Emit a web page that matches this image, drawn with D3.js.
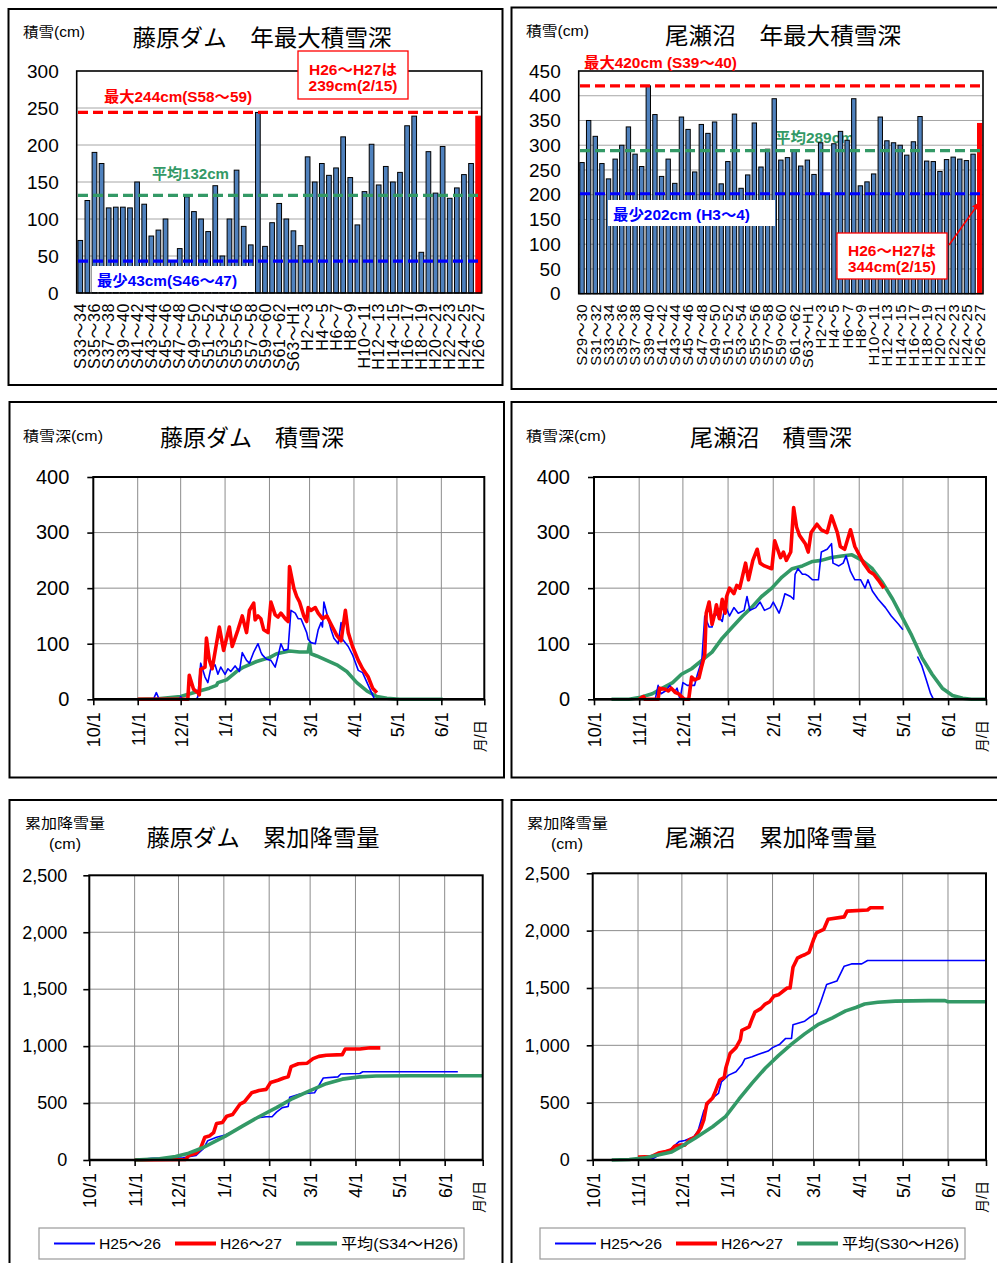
<!DOCTYPE html>
<html>
<head>
<meta charset="utf-8">
<script src="https://cdn.jsdelivr.net/npm/d3@7"></script>
<style>
body { margin: 0; background: #fff; }
svg { display: block; font-family: "Liberation Sans", "Noto Sans CJK JP", sans-serif; }
</style>
</head>
<body>
<script>
// ---- annual maximum snow depth (cm) ----
var fujiSeasons = ("S33～34 S34～35 S35～36 S36～37 S37～38 S38～39 S39～40 S40～41 S41～42 S42～43 " +
    "S43～44 S44～45 S45～46 S46～47 S47～48 S48～49 S49～50 S50～51 S51～52 S52～53 S53～54 S54～55 " +
    "S55～56 S56～57 S57～58 S58～59 S59～60 S60～61 S61～62 S62～63 S63～H1 H1～2 H2～3 H3～4 H4～5 " +
    "H5～6 H6～7 H7～8 H8～9 H9～10 H10～11 H11～12 H12～13 H13～14 H14～15 H15～16 H16～17 H17～18 " +
    "H18～19 H19～20 H20～21 H21～22 H22～23 H23～24 H24～25 H25～26 H26～27").split(" ");
var fujiMax = [71, 125, 190, 175, 115, 116, 116, 115, 150, 120, 77, 85, 100, 43, 60, 130, 110, 100, 83, 145,
    50, 100, 166, 90, 65, 244, 63, 95, 121, 100, 84, 64, 184, 150, 175, 159, 169, 211, 156, 92,
    137, 201, 146, 171, 150, 163, 226, 239, 55, 191, 135, 198, 128, 142, 160, 175, 239];
var fujiTicks = [0, 50, 100, 150, 200, 250, 300];
var fujiMaxLine = 244, fujiAvgLine = 132, fujiMinLine = 43;

var ozeSeasons = ("S29～30 S30～31 S31～32 S32～33 S33～34 S34～35 S35～36 S36～37 S37～38 S38～39 " +
    "S39～40 S40～41 S41～42 S42～43 S43～44 S44～45 S45～46 S46～47 S47～48 S48～49 S49～50 S50～51 " +
    "S51～52 S52～53 S53～54 S54～55 S55～56 S56～57 S57～58 S58～59 S59～60 S60～61 S61～62 S62～63 " +
    "S63～H1 H1～2 H2～3 H3～4 H4～5 H5～6 H6～7 H7～8 H8～9 H9～10 H10～11 H11～12 H12～13 H13～14 " +
    "H14～15 H15～16 H16～17 H17～18 H18～19 H19～20 H20～21 H21～22 H22～23 H23～24 H24～25 H25～26 H26～27").split(" ");
var ozeMax = [265, 350, 318, 263, 232, 272, 300, 337, 282, 257, 420, 362, 237, 272, 223, 357, 332, 246, 342, 324,
    347, 222, 267, 363, 213, 240, 345, 256, 292, 394, 270, 275, 290, 258, 270, 241, 305, 202, 303, 328,
    310, 394, 218, 226, 242, 357, 309, 305, 300, 280, 307, 358, 268, 267, 247, 271, 276, 272, 269, 282, 344];
var ozeTicks = [0, 50, 100, 150, 200, 250, 300, 350, 400, 450];
var ozeMaxLine = 420, ozeAvgLine = 289, ozeMinLine = 202;

// ---- daily series: [days since 10/1, cm] ----
var fujiDepthH25 = [[31,0],[42,0],[44,12],[46,0],[60,0],[61,5],[62,0],[72,0],[73,5],[75,65],[78,40],[80,30],
    [82,55],[85,62],[87,45],[89,58],[92,45],[94,55],[96,50],[99,60],[102,50],[104,84],[107,70],[109,65],
    [112,85],[115,100],[117,85],[118,80],[121,72],[124,70],[127,58],[129,78],[131,100],[133,88],[136,90],
    [138,160],[141,155],[143,145],[145,145],[149,120],[150,108],[152,102],[155,100],[157,125],[159,138],
    [160,130],[161,175],[164,145],[166,125],[168,110],[171,100],[173,138],[174,108],[178,95],[181,80],
    [185,52],[188,48],[192,25],[196,2],[197,0],[252,0]];
var fujiDepthH26 = [[31,0],[66,0],[67,43],[70,18],[73,12],[74,8],[75,54],[78,58],[79,110],[81,71],[83,55],
    [88,130],[91,88],[95,130],[97,95],[101,125],[104,150],[107,120],[109,160],[112,173],[113,143],[115,150],
    [117,145],[119,125],[122,120],[124,175],[127,152],[129,148],[131,155],[134,145],[136,140],[137,239],
    [140,200],[142,185],[144,175],[147,150],[149,140],[150,165],[152,160],[155,165],[157,155],[160,145],
    [163,150],[166,135],[170,115],[173,105],[176,160],[178,120],[181,95],[185,70],[188,55],[192,40],
    [195,20],[198,12]];
var fujiDepthAvg = [[31,0],[45,1],[61,5],[74,15],[81,20],[86,25],[87,30],[93,35],[100,50],[105,58],[114,68],
    [123,75],[128,82],[137,87],[144,85],[150,85],[151,100],[152,82],[156,78],[163,70],[170,62],[177,50],
    [184,30],[191,15],[198,5],[205,2],[214,0],[244,0]];

var ozeDepthH25 = [[31,0],[42,0],[44,25],[46,10],[49,15],[52,25],[55,12],[57,20],[59,0],[61,30],[64,25],
    [69,25],[71,45],[74,70],[76,150],[79,130],[81,130],[83,155],[85,150],[88,140],[90,170],[93,150],
    [96,165],[99,155],[103,160],[105,185],[107,160],[111,165],[114,175],[117,160],[121,165],[123,175],
    [127,155],[129,170],[131,190],[135,185],[137,180],[138,225],[140,235],[143,225],[145,225],[147,222],
    [150,215],[152,215],[154,215],[156,265],[160,270],[163,280],[164,245],[168,240],[171,245],[173,258],
    [176,230],[179,215],[183,215],[186,200],[188,215],[191,195],[195,180],[200,165],[204,150],[209,135],
    [212,125],[213,null],[221,null],[222,77],[225,60],[228,35],[231,10],[233,0],[253,0]];
var ozeDepthH26 = [[31,0],[34,5],[35,0],[44,0],[45,20],[49,18],[51,15],[53,20],[56,12],[58,10],[60,5],
    [62,0],[65,0],[67,40],[69,35],[72,38],[74,60],[76,80],[77,155],[79,175],[81,135],[83,155],[84,170],
    [86,145],[88,180],[90,155],[91,185],[93,200],[96,190],[98,205],[100,200],[104,245],[106,215],[109,250],
    [112,270],[114,245],[117,240],[122,235],[124,285],[128,255],[130,265],[132,250],[135,265],[137,345],
    [139,310],[141,295],[145,280],[147,265],[149,300],[153,315],[156,305],[160,300],[163,330],[167,300],
    [169,275],[172,270],[176,305],[179,275],[183,255],[185,245],[189,230],[192,225],[195,215],[199,200]];
var ozeDepthAvg = [[12,0],[24,0],[31,3],[40,10],[47,20],[54,30],[60,45],[67,55],[74,70],[81,85],[88,110],
    [95,130],[102,150],[108,165],[115,185],[122,200],[129,220],[136,235],[143,240],[150,248],[156,250],
    [163,255],[170,258],[177,260],[184,250],[191,235],[198,210],[205,180],[211,150],[218,115],[225,75],
    [232,45],[239,20],[246,7],[253,2],[259,0],[269,0]];

var fujiCumH25 = [[31,0],[43,15],[64,20],[73,40],[78,100],[81,170],[87,200],[93,220],[98,250],[105,300],
    [114,370],[121,380],[125,380],[128,420],[132,460],[136,470],[137,550],[144,580],[154,590],[160,720],
    [170,730],[172,755],[185,760],[187,775],[252,775]];
var fujiCumH26 = [[31,0],[66,5],[68,40],[73,60],[76,100],[79,200],[82,210],[85,240],[87,320],[91,330],
    [94,385],[98,400],[103,490],[106,510],[111,590],[116,610],[121,620],[124,680],[129,700],[133,720],
    [136,730],[138,820],[143,845],[149,850],[153,890],[157,910],[162,920],[173,925],[175,975],[185,975],
    [192,985],[199,985]];
var fujiCumAvg = [[31,0],[48,10],[59,30],[68,60],[78,110],[87,170],[93,210],[105,300],[116,380],[128,460],
    [139,540],[151,610],[162,670],[173,710],[185,730],[196,738],[219,740],[269,740]];

var ozeCumH25 = [[31,0],[41,10],[45,40],[52,80],[59,160],[63,170],[69,200],[72,250],[76,430],[79,490],
    [83,550],[86,580],[88,680],[93,740],[98,770],[102,830],[104,880],[109,900],[113,920],[120,950],
    [123,980],[128,1010],[132,1060],[136,1060],[137,1180],[145,1210],[148,1240],[153,1280],[156,1380],
    [160,1530],[167,1560],[172,1690],[177,1710],[184,1710],[188,1740],[269,1740]];
var ozeCumH26 = [[31,25],[40,30],[45,60],[50,75],[54,90],[56,120],[60,130],[63,130],[66,175],[70,200],
    [74,280],[76,350],[78,490],[82,540],[84,600],[87,700],[90,720],[91,800],[94,930],[98,980],[101,1050],
    [102,1130],[107,1160],[109,1230],[111,1290],[115,1320],[118,1360],[121,1380],[124,1430],[127,1440],
    [131,1480],[133,1500],[135,1500],[137,1680],[140,1760],[143,1780],[145,1790],[148,1810],[151,1920],
    [153,1980],[158,2010],[161,2100],[172,2120],[174,2170],[188,2180],[190,2200],[199,2200]];
var ozeCumAvg = [[13,0],[25,5],[36,20],[47,50],[54,70],[61,120],[70,190],[82,290],[91,380],[100,530],
    [109,670],[118,800],[127,910],[136,1010],[145,1100],[154,1180],[164,1240],[173,1300],[180,1330],
    [186,1360],[195,1375],[207,1385],[230,1390],[241,1390],[243,1380],[269,1380]];

var depthTicks = [0, 100, 200, 300, 400];
var cumTicks = [0, 500, 1000, 1500, 2000, 2500];
var legendNames = ["H25～26", "H26～27"];

var BLUE = "#0000ff", RED = "#ff0000", GREEN = "#339966", BAR = "#4f81bd";

var svg = d3.select("body").append("svg")
    .attr("width", 997)
    .attr("height", 1263);

svg.append("defs").append("marker")
    .attr("id", "arr")
    .attr("viewBox", "0 0 10 10")
    .attr("refX", 9).attr("refY", 5)
    .attr("markerWidth", 5).attr("markerHeight", 5)
    .attr("orient", "auto")
    .append("path").attr("d", "M0,0L10,5L0,10z").attr("fill", RED);

function txt(x, y, s, o) {
    o = o || {};
    var t = svg.append("text")
        .attr("x", x).attr("y", y)
        .attr("font-size", o.size || 14)
        .attr("fill", o.color || "#000")
        .attr("font-weight", o.bold ? "bold" : null)
        .attr("text-anchor", o.anchor || "start")
        .text(s);
    if (o.len) t.attr("textLength", o.len).attr("lengthAdjust", "spacingAndGlyphs");
    return t;
}

function panel(x, y, w, h) {
    svg.append("rect")
        .attr("x", x).attr("y", y).attr("width", w).attr("height", h)
        .attr("fill", "none").attr("stroke", "#000").attr("stroke-width", 2);
}

function dashed(x1, x2, yy, color) {
    svg.append("line")
        .attr("x1", x1).attr("x2", x2).attr("y1", yy).attr("y2", yy)
        .attr("stroke", color).attr("stroke-width", 3.2)
        .attr("stroke-dasharray", "10,5");
}

function barChart(o) {
    var x = d3.scaleBand().domain(o.cats).range([o.left, o.right])
        .paddingInner(0.34).paddingOuter(0.17);
    var y = d3.scaleLinear().domain([0, o.ticks[o.ticks.length - 1]]).range([o.bottom, o.top]);

    svg.append("g").selectAll("line")
        .data(o.ticks.slice(1, -1))
        .enter().append("line")
        .attr("x1", o.left).attr("x2", o.right)
        .attr("y1", function (d) { return y(d); })
        .attr("y2", function (d) { return y(d); })
        .attr("stroke", "#a6a6a6");

    if (o.before) o.before(y);

    svg.append("g").selectAll("rect")
        .data(o.values)
        .enter().append("rect")
        .attr("x", function (d, i) { return x(o.cats[i]); })
        .attr("width", x.bandwidth())
        .attr("y", function (d) { return y(d); })
        .attr("height", function (d) { return o.bottom - y(d); })
        .attr("fill", function (d, i) { return i === o.values.length - 1 ? RED : BAR; })
        .attr("stroke", function (d, i) { return i === o.values.length - 1 ? RED : "#000"; })
        .attr("stroke-width", 1);

    svg.append("rect")
        .attr("x", o.left).attr("y", o.top)
        .attr("width", o.right - o.left).attr("height", o.bottom - o.top)
        .attr("fill", "none").attr("stroke", "#000").attr("stroke-width", 1.6);

    var ya = svg.append("g")
        .attr("transform", "translate(" + o.left + ",0)")
        .call(d3.axisLeft(y).tickValues(o.ticks).tickSize(0).tickPadding(18));
    ya.select(".domain").remove();
    ya.attr("font-family", null).attr("font-size", 19);
    ya.selectAll("text").attr("fill", "#000");

    svg.append("g").selectAll("text")
        .data(o.cats.filter(function (d, i) { return i % 2 === 0; }))
        .enter().append("text")
        .attr("transform", function (d) {
            return "translate(" + (x(d) + x.bandwidth() / 2) + "," + (o.bottom + 10) + ") rotate(-90)";
        })
        .attr("text-anchor", "end")
        .attr("dy", "0.36em")
        .attr("font-size", o.labelSize)
        .attr("letter-spacing", 0.6)
        .text(function (d) { return d; });

    return y;
}

function lineChart(o) {
    var t0 = new Date(2014, 9, 1);
    var t1 = d3.timeDay.offset(t0, o.endDay);
    var x = d3.scaleTime().domain([t0, t1]).range([o.left, o.right]);
    var y = d3.scaleLinear().domain([0, o.ticks[o.ticks.length - 1]]).range([o.bottom, o.top]);
    var months = d3.timeMonth.range(t0, t1);

    var g = svg.append("g");
    g.selectAll(".vg").data(months.slice(1)).enter().append("line")
        .attr("x1", function (d) { return x(d); }).attr("x2", function (d) { return x(d); })
        .attr("y1", o.top).attr("y2", o.bottom)
        .attr("stroke", "#8c8c8c");
    g.selectAll(".hg").data(o.ticks.slice(1, -1)).enter().append("line")
        .attr("x1", o.left).attr("x2", o.right)
        .attr("y1", function (d) { return y(d); }).attr("y2", function (d) { return y(d); })
        .attr("stroke", "#8c8c8c");

    var line = d3.line()
        .defined(function (d) { return d[1] != null; })
        .x(function (d) { return x(d3.timeDay.offset(t0, d[0])); })
        .y(function (d) { return y(d[1]); });

    o.series.forEach(function (s) {
        g.append("path")
            .attr("d", line(s.data))
            .attr("fill", "none")
            .attr("stroke", s.color)
            .attr("stroke-width", s.width)
            .attr("stroke-linejoin", "round");
    });

    g.append("rect")
        .attr("x", o.left).attr("y", o.top)
        .attr("width", o.right - o.left).attr("height", o.bottom - o.top)
        .attr("fill", "none").attr("stroke", "#000").attr("stroke-width", 2);
    g.append("line")
        .attr("x1", o.left).attr("x2", o.right).attr("y1", o.bottom).attr("y2", o.bottom)
        .attr("stroke", "#000").attr("stroke-width", 2.6);

    var fmt = d3.timeFormat("%-m/%-d");
    var xa = g.append("g")
        .attr("transform", "translate(0," + o.bottom + ")")
        .call(d3.axisBottom(x).tickValues(months.concat([t1])).tickSize(6)
            .tickFormat(function (d) { return +d === +t1 ? "" : fmt(d); }));
    xa.select(".domain").remove();
    xa.attr("font-family", null).attr("font-size", 18);
    xa.selectAll("line").attr("stroke", "#000").attr("stroke-width", 1.6);
    xa.selectAll("text")
        .attr("fill", "#000")
        .attr("transform", "rotate(-90)")
        .attr("text-anchor", "end")
        .attr("x", -13).attr("y", 0).attr("dy", "0.36em");

    var ya = g.append("g")
        .attr("transform", "translate(" + o.left + ",0)")
        .call(d3.axisLeft(y).tickValues(o.ticks).tickSize(6).tickPadding(o.pad).tickFormat(d3.format(",")));
    ya.select(".domain").remove();
    ya.attr("font-family", null).attr("font-size", o.ySize);
    ya.selectAll("line").attr("stroke", "#000").attr("stroke-width", 1.6);
    ya.selectAll("text").attr("fill", "#000");

    g.append("text")
        .attr("transform", "translate(" + (o.right - 4) + "," + (o.bottom + 21) + ") rotate(-90)")
        .attr("text-anchor", "end")
        .attr("dy", "0.36em")
        .attr("font-size", 14)
        .text("月/日");
}

function legend(x, y, avgName) {
    svg.append("rect")
        .attr("x", x).attr("y", y).attr("width", 425).attr("height", 31)
        .attr("fill", "#fff").attr("stroke", "#9a9a9a").attr("stroke-width", 1.2);
    var items = [
        { name: legendNames[0], color: BLUE, w: 2, dx: 15, tl: 62 },
        { name: legendNames[1], color: RED, w: 4, dx: 136, tl: 62 },
        { name: avgName, color: GREEN, w: 4, dx: 257, tl: 117 }
    ];
    items.forEach(function (it) {
        svg.append("line")
            .attr("x1", x + it.dx).attr("x2", x + it.dx + 41)
            .attr("y1", y + 15.5).attr("y2", y + 15.5)
            .attr("stroke", it.color).attr("stroke-width", it.w);
        txt(x + it.dx + 45, y + 21, it.name, { size: 15, len: it.tl });
    });
}

// ---------- panel frames ----------
panel(8.5, 9, 494, 376);
panel(511.5, 7.5, 495, 381.5);
panel(9.5, 402, 494.5, 375.5);
panel(511.5, 402, 495, 375.5);
panel(9.5, 800, 493, 480);
panel(511.5, 800, 495, 480);

// ---------- top-left: 藤原ダム 年最大積雪深 ----------
txt(23, 37, "積雪(cm)", { size: 14, len: 62 });
txt(262, 46, "藤原ダム　年最大積雪深", { size: 23, anchor: "middle", len: 259 });
var yF = barChart({
    cats: fujiSeasons, values: fujiMax, ticks: fujiTicks,
    left: 76.7, right: 481.7, top: 71, bottom: 293, labelSize: 16
});
dashed(78, 481, yF(fujiMaxLine), RED);
dashed(78, 481, yF(fujiAvgLine), GREEN);
dashed(78, 481, yF(fujiMinLine), BLUE);
txt(104, yF(fujiMaxLine) - 10, "最大244cm(S58～59)", { size: 15, bold: true, color: RED, len: 148 });
txt(152, yF(fujiAvgLine) - 16, "平均132cm", { size: 15, bold: true, color: GREEN, len: 77 });
svg.append("rect").attr("x", 92).attr("y", 266).attr("width", 163).attr("height", 26).attr("fill", "#fff");
txt(97, 286, "最少43cm(S46～47)", { size: 15, bold: true, color: BLUE, len: 140 });
svg.append("rect").attr("x", 298).attr("y", 51).attr("width", 110).attr("height", 48)
    .attr("fill", "#fff").attr("stroke", RED).attr("stroke-width", 1.3);
txt(353, 75, "H26～H27は", { size: 15, bold: true, color: RED, anchor: "middle", len: 88 });
txt(353, 91, "239cm(2/15)", { size: 15, bold: true, color: RED, anchor: "middle", len: 89 });

// ---------- top-right: 尾瀬沼 年最大積雪深 ----------
txt(526, 36, "積雪(cm)", { size: 14, len: 63 });
txt(783, 44, "尾瀬沼　年最大積雪深", { size: 23, anchor: "middle", len: 236 });
var yO = barChart({
    cats: ozeSeasons, values: ozeMax, ticks: ozeTicks,
    left: 578.7, right: 983, top: 71, bottom: 293.7, labelSize: 15,
    before: function (y) {
        txt(775, y(ozeAvgLine) - 8, "平均289cm", { size: 15, bold: true, color: GREEN, len: 79 });
    }
});
dashed(580, 982, yO(ozeMaxLine), RED);
dashed(580, 982, yO(ozeAvgLine), GREEN);
dashed(580, 982, yO(ozeMinLine), BLUE);
txt(584, 68, "最大420cm (S39～40)", { size: 15, bold: true, color: RED, len: 153 });
svg.append("rect").attr("x", 608).attr("y", 200).attr("width", 167).attr("height", 26).attr("fill", "#fff");
txt(613, 220, "最少202cm (H3～4)", { size: 15, bold: true, color: BLUE, len: 137 });
svg.append("rect").attr("x", 837).attr("y", 233).attr("width", 110).attr("height", 46)
    .attr("fill", "#fff").attr("stroke", RED).attr("stroke-width", 1.3);
txt(892, 256, "H26～H27は", { size: 15, bold: true, color: RED, anchor: "middle", len: 88 });
txt(892, 272, "344cm(2/15)", { size: 15, bold: true, color: RED, anchor: "middle", len: 88 });
svg.append("line").attr("x1", 949).attr("y1", 245).attr("x2", 979).attr("y2", 203)
    .attr("stroke", RED).attr("stroke-width", 1.5).attr("marker-end", "url(#arr)");

// ---------- middle: 積雪深 ----------
txt(23, 441, "積雪深(cm)", { size: 14, len: 80 });
txt(252, 446, "藤原ダム　積雪深", { size: 23, anchor: "middle", len: 184 });
lineChart({
    left: 93.3, right: 484.3, top: 477, bottom: 699.3, endDay: 273,
    ticks: depthTicks, pad: 18, ySize: 20,
    series: [
        { data: fujiDepthAvg, color: GREEN, width: 3.6 },
        { data: fujiDepthH25, color: BLUE, width: 1.6 },
        { data: fujiDepthH26, color: RED, width: 3.6 }
    ]
});

txt(526, 441, "積雪深(cm)", { size: 14, len: 80 });
txt(771, 446, "尾瀬沼　積雪深", { size: 23, anchor: "middle", len: 162 });
lineChart({
    left: 594, right: 986, top: 477, bottom: 699.3, endDay: 269,
    ticks: depthTicks, pad: 18, ySize: 20,
    series: [
        { data: ozeDepthAvg, color: GREEN, width: 3.6 },
        { data: ozeDepthH25, color: BLUE, width: 1.6 },
        { data: ozeDepthH26, color: RED, width: 3.6 }
    ]
});

// ---------- bottom: 累加降雪量 ----------
txt(25, 828, "累加降雪量", { size: 14, len: 80 });
txt(49, 849, "(cm)", { size: 14, len: 32 });
txt(263, 846, "藤原ダム　累加降雪量", { size: 23, anchor: "middle", len: 233 });
lineChart({
    left: 89.3, right: 482.7, top: 875.3, bottom: 1160, endDay: 269,
    ticks: cumTicks, pad: 16, ySize: 18,
    series: [
        { data: fujiCumH25, color: BLUE, width: 1.6 },
        { data: fujiCumH26, color: RED, width: 3.6 },
        { data: fujiCumAvg, color: GREEN, width: 3.6 }
    ]
});
legend(39, 1228, "平均(S34～H26)");

txt(527, 828, "累加降雪量", { size: 14, len: 81 });
txt(551, 849, "(cm)", { size: 14, len: 32 });
txt(771, 846, "尾瀬沼　累加降雪量", { size: 23, anchor: "middle", len: 212 });
lineChart({
    left: 592.7, right: 986, top: 873.3, bottom: 1160, endDay: 269,
    ticks: cumTicks, pad: 17, ySize: 18,
    series: [
        { data: ozeCumH25, color: BLUE, width: 1.6 },
        { data: ozeCumH26, color: RED, width: 3.6 },
        { data: ozeCumAvg, color: GREEN, width: 3.6 }
    ]
});
legend(540, 1228, "平均(S30～H26)");
</script>
</body>
</html>
